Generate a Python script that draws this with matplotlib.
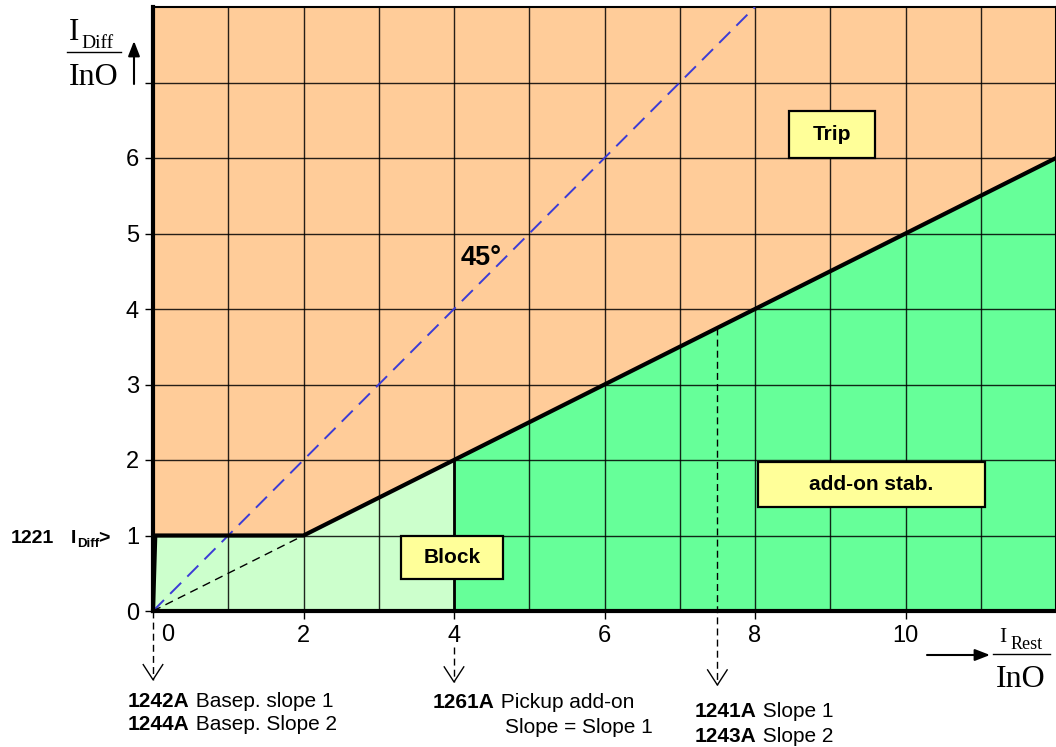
import matplotlib
matplotlib.use("Agg")
import matplotlib.pyplot as plt
from matplotlib.patches import Polygon, Rectangle

plt.rcParams['font.family'] = ['Liberation Sans', 'DejaVu Sans']

# characteristic (I_Rest, I_Diff) knee points
char_x = [0, 0.03, 2, 4, 12]
char_y = [0, 1, 1, 2, 6]
# block region (light green) and add-on stabilisation region (green)
block_x = [0, 0.03, 2, 4, 4]
block_y = [0, 1, 1, 2, 0]
addon_x = [4, 4, 12, 12]
addon_y = [0, 2, 6, 0]
# 45 degree line and base point line
diag_x = [0, 8]
diag_y = [0, 8]
base_x = [0, 2]
base_y = [0, 1]
# setting marker lines below the axis
marker_x = [0, 4, 7.5]
marker_top = [0, -0.48, 3.75]
marker_tip = [-0.91, -0.94, -0.98]

xticks = [2, 4, 6, 8, 10]
yticks = [0, 1, 2, 3, 4, 5, 6, 7]
ytick_labels = ['0', '1', '2', '3', '4', '5', '6', '']

PEACH = '#FFCC99'
GREEN = '#66FF99'
LIGHT = '#CCFFCC'
YELLOW = '#FFFF99'

W, H = 1056, 747
fig = plt.figure(figsize=(W / 100, H / 100), dpi=100)
ax = fig.add_axes([153 / W, 1 - 611 / H, (W - 153) / W, (611 - 7) / H])
ax.set_xlim(0, 12)
ax.set_ylim(0, 8)
ax.set_facecolor(PEACH)

ax.add_patch(Polygon(list(zip(block_x, block_y)), closed=True, fc=LIGHT, ec='none', zorder=1))
ax.add_patch(Polygon(list(zip(addon_x, addon_y)), closed=True, fc=GREEN, ec='none', zorder=1))

ax.set_xticks(xticks)
ax.set_xticks(range(13), minor=True)
ax.set_yticks(yticks)
ax.set_yticklabels(ytick_labels)
ax.tick_params(axis='both', which='major', labelsize=17, length=6, width=1, pad=4)
ax.tick_params(axis='x', which='minor', length=0)
ax.set_axisbelow(False)
ax.grid(True, which='both', color='black', lw=1.0, alpha=0.85)

for side in ['left', 'bottom']:
    ax.spines[side].set_linewidth(3)
ax.spines['top'].set_linewidth(1.5)
ax.spines['right'].set_linewidth(1.5)

# lines
ax.plot(diag_x, diag_y, color='#3b3bd6', lw=1.4, ls=(0, (8, 4.5)), zorder=3)
ax.plot(base_x, base_y, color='black', lw=1.0, ls=(0, (6, 4)), zorder=3)
ax.plot(char_x, char_y, color='black', lw=3, zorder=4, solid_capstyle='butt')
ax.plot([4, 4], [0, 2], color='black', lw=2, zorder=4)

# marker arrows
for mx, top, tip in zip(marker_x, marker_top, marker_tip):
    ax.plot([mx, mx], [top, tip], color='black', lw=1, ls=(0, (5, 3)),
            clip_on=False, zorder=5)
    ax.plot([mx - 0.13, mx, mx + 0.13], [tip + 0.2, tip, tip + 0.2],
            color='black', lw=1, clip_on=False, zorder=5)

ax.text(0.2, -0.17, '0', fontsize=17, ha='center', va='top')

# region boxes
boxes = [('Trip', 8.45, 6.0, 1.15, 0.62),
         ('add-on stab.', 8.04, 1.38, 3.01, 0.6),
         ('Block', 3.29, 0.42, 1.36, 0.57)]
for label, bx, by, bw, bh in boxes:
    ax.add_patch(Rectangle((bx, by), bw, bh, fc=YELLOW, ec='black', lw=1.6, zorder=6))
    ax.text(bx + bw / 2, by + bh / 2, label, fontsize=15, fontweight='bold',
            ha='center', va='center', zorder=7)

ax.text(4.36, 4.68, '45°', fontsize=19.5, fontweight='bold', ha='center', va='center', zorder=7)


def ftext(x, y, s, **kw):
    ax.annotate(s, xy=(x, H - y), xycoords='figure pixels', va='baseline',
                annotation_clip=False, **kw)


def fline(x0, y0, x1, y1, **kw):
    fig.add_artist(plt.Line2D([x0 / W, x1 / W], [1 - y0 / H, 1 - y1 / H],
                              transform=fig.transFigure, color='black', **kw))


def farrow(x0, y0, x1, y1):
    ax.annotate('', xy=(x1, H - y1), xycoords='figure pixels',
                xytext=(x0, H - y0), textcoords='figure pixels',
                arrowprops=dict(arrowstyle='-|>,head_length=0.9,head_width=0.35',
                                color='black', lw=1.5, shrinkA=0, shrinkB=0),
                annotation_clip=False)


serif = ['Liberation Serif', 'DejaVu Serif']
# y axis label
ftext(69, 40, 'I', fontsize=22.5, family=serif)
ftext(81, 48, 'Diff', fontsize=14, family=serif)
fline(67, 52, 121, 52, lw=1)
ftext(69, 85, 'InO', fontsize=23, family=serif)
farrow(134, 84, 134, 41)

# x axis label
ftext(999, 642, 'I', fontsize=15.5, family=serif)
ftext(1011, 649, 'Rest', fontsize=13, family=serif)
fline(993, 654, 1050, 654, lw=1)
ftext(996, 687, 'InO', fontsize=23, family=serif)
farrow(927, 655, 990, 655)

# pickup label
ftext(11, 543, '1221', fontsize=14, fontweight='bold')
ftext(71, 543, 'I', fontsize=14, fontweight='bold')
ftext(77, 547, 'Diff', fontsize=9.5, fontweight='bold')
ftext(98, 543, '>', fontsize=14, fontweight='bold')

# setting labels under the axis
notes = [(128, 707, '1242A', ' Basep. slope 1'),
         (128, 730, '1244A', ' Basep. Slope 2'),
         (433, 708, '1261A', ' Pickup add-on'),
         (695, 717, '1241A', ' Slope 1'),
         (695, 742, '1243A', ' Slope 2')]
for nx, ny, code, rest in notes:
    t = ax.annotate(code, xy=(nx, H - ny), xycoords='figure pixels', va='baseline',
                    fontsize=15, fontweight='bold', annotation_clip=False)
    ax.annotate(rest, xy=(1, 0), xycoords=t, va='bottom', fontsize=15,
                annotation_clip=False)
ftext(505, 733, 'Slope = Slope 1', fontsize=15)

fig.savefig('out.png', dpi=100)
